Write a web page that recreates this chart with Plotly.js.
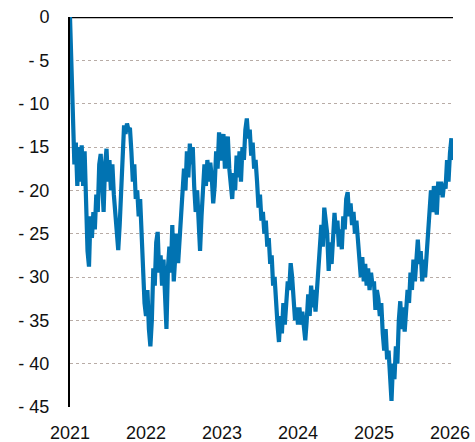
<!DOCTYPE html>
<html>
<head>
<meta charset="utf-8">
<script src="https://cdn.plot.ly/plotly-3.0.1.min.js"></script>
<style>html,body{margin:0;padding:0;background:#fff;}#chart{width:475px;height:442px;}</style>
</head>
<body>
<div id="chart"></div>
<script>
// Weekly observations starting at the beginning of 2021
const startYear = 2021;
const weeksPerYear = 52;
const values2021 = [0, -7, -13, -17, -14.5, -19.5, -15, -19, -14.8, -19.5, -15.5, -22, -27, -28.8, -23, -25.5, -22.5, -24.5, -20.5, -22.5, -17, -15.8, -19.5, -22.5, -17, -15.2, -19, -16.5, -20, -17, -20.5, -23, -24.5, -26.9, -24, -19, -15.3, -12.5, -13.5, -12.3, -13, -12.8, -15.5, -19, -17, -21, -20, -23, -21, -26, -29.5, -33];
const values2022 = [-34.5, -31.5, -36, -38, -35, -29, -31, -26, -24.8, -29.5, -27.5, -31, -28, -33, -36, -29, -26.5, -29.5, -24, -30.5, -27.5, -25, -28.4, -26, -23, -20, -17.5, -20, -15.5, -18.5, -14.6, -17, -15, -19.6, -22.5, -20, -24, -27, -23, -20, -17, -19.5, -16.5, -19, -16.8, -18.5, -21.5, -19.5, -15.5, -17.5, -13.3, -16.5];
const values2023 = [-16, -13.5, -17.5, -15, -13.8, -17.5, -19, -21, -18, -20, -16, -18.5, -15.5, -19, -15, -16.5, -13, -11.7, -14, -13, -16, -14.5, -17.5, -16.5, -19, -22, -20.5, -23.5, -22.5, -25, -23.5, -26.5, -25.5, -28.5, -27.5, -31, -30, -34, -35.5, -37.5, -34.5, -36.5, -33, -35.5, -32, -30.5, -31.5, -28.4, -30, -32.5, -35, -33.5];
const values2024 = [-35.5, -33.5, -35.5, -34, -36, -37.3, -35, -32, -34.5, -31, -33.5, -31.5, -34, -31, -28.5, -26, -24, -26.5, -22, -23.5, -25, -29.3, -26, -28.5, -24, -22.6, -25, -23.5, -26.5, -24.5, -26.8, -23, -24.5, -21, -20.2, -23, -21.5, -24, -22.5, -25, -23.5, -26, -28.5, -30, -27.7, -30.5, -28.5, -31, -29, -31.5, -29.5, -31];
const values2025 = [-30.5, -33.8, -31.5, -32.5, -34.5, -33, -36.5, -38.5, -36, -39.5, -38.5, -42, -44.3, -40, -41.8, -38, -40, -35, -32.8, -36, -33.5, -36.3, -33.5, -31.5, -33, -29.5, -31.5, -28, -30.5, -27, -25.7, -28.5, -27, -30.5, -28, -30, -27.5, -24, -22, -20, -22.5, -19.5, -21.5, -22.8, -19, -20.5, -19, -20.8, -19.2, -19.8, -16.5, -19];
const values2026 = [-15.7, -14, -16.5];

const yTickVals = [0, -5, -10, -15, -20, -25, -30, -35, -40, -45];
const yTickText = ["0", "- 5", "- 10", "- 15", "- 20", "- 25", "- 30", "- 35", "- 40", "- 45"];
const xTickVals = [2021, 2022, 2023, 2024, 2025, 2026];
const xTickText = ["2021", "2022", "2023", "2024", "2025", "2026"];

const yVals = [].concat(values2021, values2022, values2023, values2024, values2025, values2026);
const xVals = yVals.map((_, i) => startYear + i / weeksPerYear);

const fontFam = '"Liberation Sans", Arial, sans-serif';

const trace = {
  x: xVals, y: yVals, type: 'scatter', mode: 'lines',
  line: {color: '#0173b2', width: 4.2},
  hoverinfo: 'skip'
};

const layout = {
  width: 475, height: 442,
  margin: {l: 70, r: 22, t: 17, b: 35},
  paper_bgcolor: '#ffffff', plot_bgcolor: '#ffffff',
  showlegend: false,
  font: {family: fontFam, size: 18, color: '#111111'},
  xaxis: {
    range: [2021, 2026.04],
    tickvals: xTickVals, ticktext: xTickText,
    showgrid: false, zeroline: false, showline: false,
    ticks: '', ticklabelstandoff: 13,
    tickfont: {family: fontFam, size: 18, color: '#111111'},
    fixedrange: true
  },
  yaxis: {
    range: [-45, 0],
    tickvals: yTickVals, ticktext: yTickText,
    showgrid: true, gridcolor: '#b8aca6', griddash: 'dot', gridwidth: 1,
    zeroline: false,
    showline: true, linecolor: '#000000', linewidth: 2,
    ticks: '', ticklabelstandoff: 15,
    tickfont: {family: fontFam, size: 18, color: '#111111'},
    fixedrange: true
  },
  shapes: [{
    type: 'line', xref: 'paper', yref: 'y',
    x0: 0, x1: 1, y0: 0, y1: 0,
    line: {color: '#000000', width: 2.5},
    layer: 'below'
  }]
};

Plotly.newPlot('chart', [trace], layout, {staticPlot: true, displayModeBar: false});
</script>
</body>
</html>
